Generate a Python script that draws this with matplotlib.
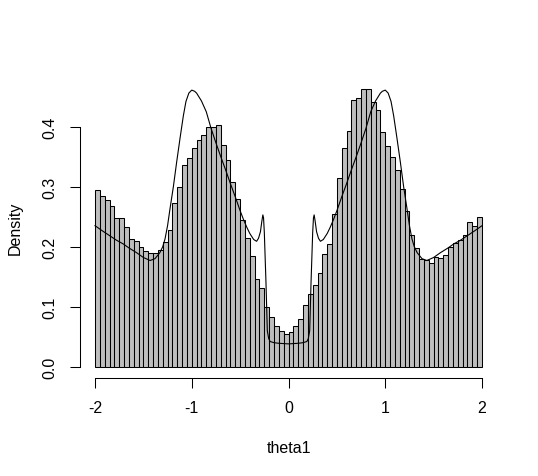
import matplotlib
matplotlib.use("Agg")
import matplotlib.pyplot as plt
import numpy as np

plt.rcParams['font.family'] = ['Liberation Sans', 'DejaVu Sans']
plt.rcParams['axes.unicode_minus'] = False

# histogram of theta1, 80 bins of width 0.05 on [-2, 2]
bin_start = -2.0
bin_width = 0.05
density = [
    0.294, 0.285, 0.277, 0.267, 0.247, 0.247, 0.233, 0.212, 0.209, 0.200,
    0.193, 0.190, 0.190, 0.195, 0.208, 0.228, 0.272, 0.300, 0.336, 0.348,
    0.364, 0.378, 0.386, 0.400, 0.399, 0.402, 0.370, 0.344, 0.308, 0.279,
    0.244, 0.214, 0.185, 0.146, 0.131, 0.099, 0.082, 0.068, 0.059, 0.054,
    0.057, 0.067, 0.079, 0.102, 0.121, 0.136, 0.156, 0.188, 0.205, 0.254,
    0.314, 0.364, 0.393, 0.445, 0.447, 0.462, 0.463, 0.441, 0.428, 0.391,
    0.367, 0.349, 0.328, 0.296, 0.260, 0.220, 0.198, 0.179, 0.178, 0.173,
    0.182, 0.181, 0.186, 0.200, 0.206, 0.211, 0.219, 0.241, 0.234, 0.250,
]

# true density curve
curve_x = [
    -2.0, -1.92, -1.845, -1.78, -1.707, -1.65, -1.57, -1.50, -1.43, -1.38,
    -1.33, -1.30, -1.276, -1.25, -1.225, -1.19, -1.156, -1.12, -1.087, -1.06,
    -1.03, -1.0, -0.97, -0.95, -0.90, -0.85, -0.80, -0.75, -0.70, -0.65,
    -0.60, -0.55, -0.50, -0.467, -0.43, -0.40, -0.36, -0.33, -0.31, -0.29,
    -0.275, -0.265, -0.258, -0.25, -0.233, -0.219, -0.205, -0.19, -0.15, -0.10,
    0.0,
    0.10, 0.15, 0.19, 0.205, 0.219, 0.233, 0.25, 0.258, 0.265, 0.275,
    0.29, 0.31, 0.33, 0.36, 0.40, 0.43, 0.467, 0.50, 0.55, 0.60,
    0.65, 0.70, 0.75, 0.80, 0.85, 0.90, 0.95, 0.97, 1.0, 1.03,
    1.06, 1.087, 1.12, 1.156, 1.19, 1.225, 1.25, 1.276, 1.30, 1.33,
    1.38, 1.43, 1.50, 1.57, 1.65, 1.707, 1.78, 1.845, 1.92, 2.0,
]
curve_y = [
    0.235, 0.226, 0.218, 0.211, 0.2045, 0.198, 0.190, 0.182, 0.177, 0.180,
    0.190, 0.200, 0.213, 0.235, 0.263, 0.300, 0.341, 0.382, 0.418, 0.442,
    0.456, 0.461, 0.459, 0.456, 0.443, 0.425, 0.397, 0.373, 0.350, 0.328,
    0.305, 0.283, 0.260, 0.246, 0.232, 0.222, 0.212, 0.209, 0.214, 0.225,
    0.243, 0.253, 0.248, 0.224, 0.141, 0.060, 0.047, 0.042, 0.040, 0.039,
    0.038,
    0.039, 0.040, 0.042, 0.047, 0.060, 0.141, 0.224, 0.248, 0.253, 0.243,
    0.225, 0.214, 0.209, 0.212, 0.222, 0.232, 0.246, 0.260, 0.283, 0.305,
    0.328, 0.350, 0.373, 0.397, 0.425, 0.443, 0.456, 0.459, 0.461, 0.456,
    0.442, 0.418, 0.382, 0.341, 0.300, 0.263, 0.235, 0.213, 0.200, 0.190,
    0.180, 0.177, 0.182, 0.190, 0.198, 0.2045, 0.211, 0.218, 0.226, 0.235,
]

x_ticks = [-2, -1, 0, 1, 2]
y_ticks = [0.0, 0.1, 0.2, 0.3, 0.4]

fig = plt.figure(figsize=(5.38, 4.77), dpi=100)
ax = fig.add_axes([0.1478, 0.2059, 0.7769, 0.6289])

lefts = bin_start + bin_width * np.arange(len(density))
ax.bar(lefts, density, width=bin_width, align='edge',
       color='#BEBEBE', edgecolor='black', linewidth=0.75)
ax.plot(curve_x, curve_y, color='black', linewidth=0.8)

ax.set_xlim(-2.16, 2.16)
ax.set_ylim(-0.0185, 0.4815)

for side in ['top', 'right']:
    ax.spines[side].set_visible(False)
ax.spines['bottom'].set_bounds(-2, 2)
ax.spines['left'].set_bounds(0, 0.4)
ax.spines['bottom'].set_linewidth(0.75)
ax.spines['left'].set_linewidth(0.75)

ax.set_xticks(x_ticks)
ax.set_xticklabels([str(t) for t in x_ticks])
ax.set_yticks(y_ticks)
ax.set_yticklabels(['%.1f' % t for t in y_ticks], rotation=90, va='center')
ax.tick_params(axis='both', length=7, width=0.75, labelsize=11.5, pad=9)

ax.set_xlabel('theta1', fontsize=11.5, labelpad=18)
ax.set_ylabel('Density', fontsize=11.5, labelpad=14)

fig.savefig('out.png', dpi=100)
